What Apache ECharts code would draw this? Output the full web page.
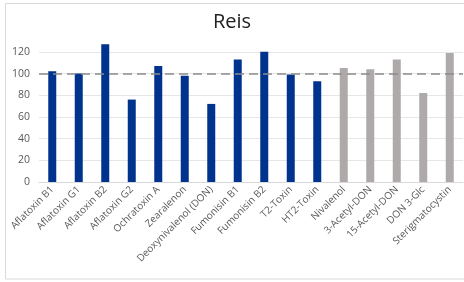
<!DOCTYPE html>
<html>
<head>
<meta charset="utf-8">
<script src="https://cdn.jsdelivr.net/npm/echarts@6/dist/echarts.min.js"></script>
<style>
  html, body { margin: 0; padding: 0; background: #fff; }
  #draw { width: 464px; height: 282px; }
</style>
</head>
<body>
<div id="draw"></div>
<script>
  // Kategorien (Mykotoxine)
  var categories = ['Aflatoxin B1', 'Aflatoxin G1', 'Aflatoxin B2', 'Aflatoxin G2', 'Ochratoxin A',
    'Zearalenon', 'Deoxynivalenol (DON)', 'Fumonisin B1', 'Fumonisin B2', 'T2-Toxin', 'HT2-Toxin',
    'Nivalenol', '3-Acetyl-DON', '15-Acetyl-DON', 'DON 3-Glc', 'Sterigmatocystin'];
  // blaue Balken (erste 11), graue Balken (letzte 5)
  var blueValues = [102, 100, 127, 76, 107, 98, 72, 113, 120, 99, 93, null, null, null, null, null];
  var grayValues = [null, null, null, null, null, null, null, null, null, null, null, 105, 104, 113, 82, 119];
  var refLine = 100;

  var myChart = echarts.init(document.getElementById('draw'));
  myChart.setOption({
    animation: false,
    title: {
      text: 'Reis',
      left: 'center',
      top: 7,
      textStyle: { fontFamily: 'Open Sans', fontWeight: 'normal', fontSize: 20, color: '#222' }
    },
    graphic: [{
      type: 'rect',
      shape: { x: 5.5, y: 3.5, width: 470, height: 275.5 },
      style: { fill: 'none', stroke: '#d9d9d9', lineWidth: 1 },
      silent: true
    }],
    grid: { left: 39, right: 1, top: 41, bottom: 100 },
    xAxis: {
      type: 'category',
      data: categories,
      axisLine: { show: true, lineStyle: { color: '#d9d9d9' } },
      axisTick: { show: false },
      axisLabel: {
        rotate: 45,
        interval: 0,
        margin: 6,
        color: '#595959',
        fontSize: 10,
        fontFamily: 'Open Sans'
      }
    },
    yAxis: {
      type: 'value',
      min: 0,
      max: 130,
      interval: 20,
      axisLine: { show: false },
      axisTick: { show: false },
      axisLabel: {
        color: '#595959',
        fontSize: 10.5,
        fontFamily: 'Open Sans',
        margin: 9,
        showMaxLabel: false
      },
      splitLine: {
        lineStyle: {
          color: ['#e6e6e6', '#e6e6e6', '#e6e6e6', '#e6e6e6', '#e6e6e6', '#e6e6e6', '#e6e6e6', 'rgba(0,0,0,0)']
        }
      }
    },
    series: [{
      type: 'bar',
      data: blueValues,
      barWidth: 8,
      barGap: '-100%',
      itemStyle: { color: '#00338d' },
      markLine: {
        silent: true,
        symbol: 'none',
        label: { show: false },
        lineStyle: { color: '#8c8c8c', type: [9, 5], width: 1.5 },
        data: [{ yAxis: refLine }]
      }
    }, {
      type: 'bar',
      data: grayValues,
      barWidth: 8,
      itemStyle: { color: '#aeaaaa' }
    }]
  });
</script>
</body>
</html>
